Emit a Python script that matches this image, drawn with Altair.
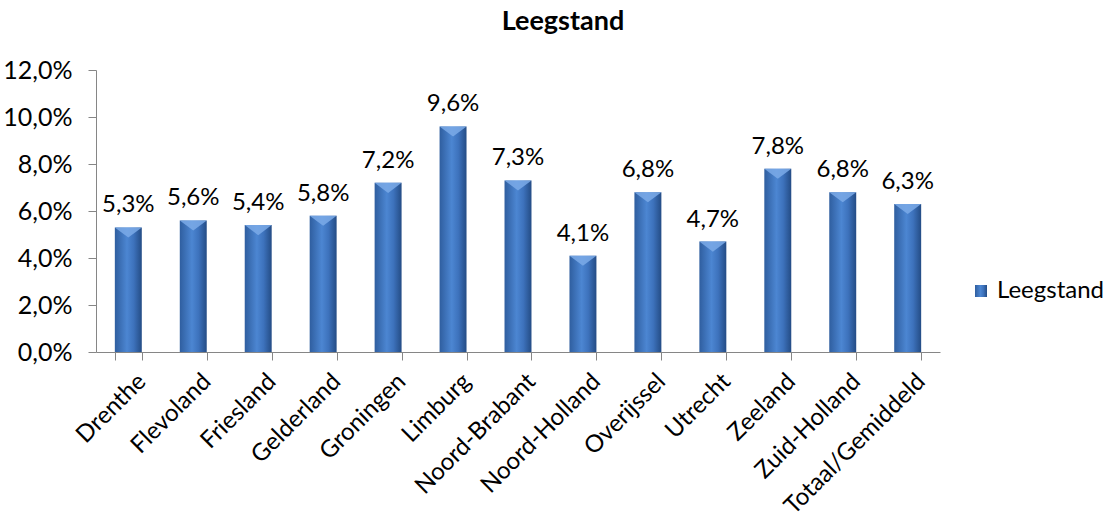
import altair as alt
import pandas as pd

provinces = ["Drenthe", "Flevoland", "Friesland", "Gelderland", "Groningen", "Limburg",
             "Noord-Brabant", "Noord-Holland", "Overijssel", "Utrecht", "Zeeland",
             "Zuid-Holland", "Totaal/Gemiddeld"]
values = [0.053, 0.056, 0.054, 0.058, 0.072, 0.096, 0.073, 0.041, 0.068, 0.047, 0.078, 0.068, 0.063]
labels = ["5,3%", "5,6%", "5,4%", "5,8%", "7,2%", "9,6%", "7,3%", "4,1%", "6,8%", "4,7%",
          "7,8%", "6,8%", "6,3%"]

df = pd.DataFrame({"provincie": provinces, "waarde": values, "label": labels,
                   "serie": ["Leegstand"] * len(provinces)})

FONT = "Lato"
FS_AXIS = 25
FS_BAR = 24

x = alt.X("provincie:N", sort=provinces, title=None,
          scale=alt.Scale(paddingInner=0.585, paddingOuter=0.29),
          axis=alt.Axis(labelAngle=-45, labelAlign="right", labelBaseline="top",
                        labelFontSize=24, labelFont=FONT, labelColor="#000000",
                        labelLimit=400,
                        tickBand="extent", tickSize=8, tickColor="#868686",
                        domainColor="#868686", labelPadding=9, labelOffset=5))

grad = alt.Gradient(
    gradient="linear", x1=0, x2=1, y1=0, y2=0,
    stops=[alt.GradientStop(color="#2F5E9F", offset=0),
           alt.GradientStop(color="#4C86D2", offset=0.45),
           alt.GradientStop(color="#3D72BC", offset=0.7),
           alt.GradientStop(color="#244C85", offset=1)])

bars = alt.Chart(df).mark_bar(color=grad).encode(
    x=x,
    y=alt.Y("waarde:Q", title=None,
            scale=alt.Scale(domain=[0, 0.12]),
            axis=alt.Axis(values=[0, 0.02, 0.04, 0.06, 0.08, 0.10, 0.12],
                          labelExpr="replace(format(datum.value, '.1%'), '.', ',')",
                          labelFontSize=FS_AXIS, labelFont=FONT, labelColor="#000000",
                          grid=False, tickSize=8, tickColor="#868686",
                          domainColor="#868686", labelPadding=16)),
    opacity=alt.Opacity("serie:N", scale=alt.Scale(range=[1]),
                        legend=alt.Legend(title=None, orient="none", legendX=873, legendY=209,
                                          symbolType="square", symbolSize=144,
                                          symbolFillColor="#3D72BC", symbolStrokeColor="#2F5E9F",
                                          symbolOpacity=1, labelOffset=4, labelLimit=300,
                                          labelFontSize=24, labelFont=FONT, labelColor="#000000")),
)

bevel = alt.Chart(df).mark_point(
    shape="M-1,0L1,0L0,0.75Z", size=729, filled=True, color="#7BAAE8", opacity=0.85,
    strokeWidth=0,
).encode(
    x=alt.X("provincie:N", sort=provinces),
    y="waarde:Q",
)

text = alt.Chart(df).mark_text(dy=-15, baseline="alphabetic", fontSize=FS_BAR, font=FONT,
                               color="#000000").encode(
    x=alt.X("provincie:N", sort=provinces),
    y="waarde:Q",
    text="label:N",
)

chart = alt.layer(bars, bevel, text).properties(
    width=844, height=282,
    title=alt.TitleParams("Leegstand", fontSize=27, font=FONT, fontWeight="bold",
                          anchor="middle", frame="group", dx=45, offset=22, color="#000000"),
    autosize=alt.AutoSizeParams(type="none"),
    padding={"left": 96, "top": 70, "right": 176, "bottom": 172},
).configure_view(stroke=None)

chart.save("out.html", embed_options={"renderer": "svg", "actions": False})
